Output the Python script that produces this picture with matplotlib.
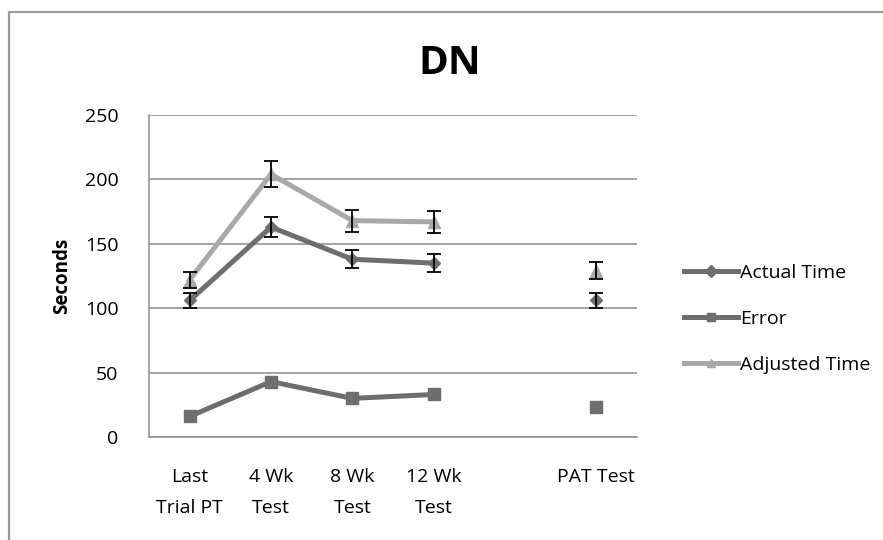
import numpy as np
import matplotlib.pyplot as plt
from matplotlib.patches import Rectangle

plt.rcParams['font.family'] = ['Open Sans', 'DejaVu Sans']

# -- data ---------------------------------------------------------
categories    = ['Last\nTrial PT', '4 Wk\nTest', '8 Wk\nTest', '12 Wk\nTest', '', 'PAT Test']
actual_time   = [106, 163, 138, 135, np.nan, 106]
actual_err    = [5.5, 8, 7, 7, np.nan, 5.5]
error_vals    = [16, 43, 30, 33, np.nan, 23]
adjusted_time = [122, 204, 168, 167, np.nan, 129]
adjusted_err  = [6, 10, 8.5, 8.5, np.nan, 6.5]
y_ticks       = [0, 50, 100, 150, 200, 250]

dark  = '#6e6e6e'
light = '#a9a9a9'

# -- plot setup ---------------------------------------------------
fig = plt.figure(figsize=(8.83, 5.40), dpi=100)
ax  = fig.add_axes((149/883, 1-437/540, (637-149)/883, (437-115)/540))

x = np.arange(len(categories))

ax.plot(x, actual_time, color=dark, lw=3.6, marker='D', ms=6.5, label='Actual Time', zorder=3)
ax.plot(x, error_vals, color=dark, lw=3.6, marker='s', ms=8, label='Error', zorder=3)
ax.plot(x, adjusted_time, color=light, lw=3.6, marker='^', ms=8, label='Adjusted Time', zorder=3)

ax.errorbar(x, actual_time, yerr=actual_err, fmt='none', ecolor='black', elinewidth=1.3,
            capsize=5, capthick=1.3, zorder=4)
ax.errorbar(x, adjusted_time, yerr=adjusted_err, fmt='none', ecolor='black', elinewidth=1.3,
            capsize=5, capthick=1.3, zorder=4)

# -- axes ---------------------------------------------------------
ax.set_xlim(-0.5, len(categories) - 0.5)
ax.set_ylim(0, 250)
ax.set_yticks(y_ticks)
ax.set_xticks(x, categories)
ax.tick_params(axis='both', length=0, labelsize=14, colors='black')
ax.tick_params(axis='y', pad=22)
ax.tick_params(axis='x', pad=22)
for lbl in ax.get_xticklabels():
    lbl.set_linespacing(1.95)
ax.yaxis.grid(True, color='#8c8c8c', lw=1.1)
ax.set_axisbelow(True)
for s in ('top', 'right'):
    ax.spines[s].set_visible(False)
for s in ('left', 'bottom'):
    ax.spines[s].set_color('#8c8c8c')
    ax.spines[s].set_linewidth(1.1)

ax.set_ylabel('Seconds', fontsize=13.5, fontweight='bold', labelpad=9)
fig.text(450/883, 1-64/540, 'DN', fontsize=29, fontweight='bold', ha='center', va='center')

leg = ax.legend(loc='center left', bbox_to_anchor=(666/883, 1-319/540),
                bbox_transform=fig.transFigure, frameon=False, fontsize=14,
                handlelength=2.8, labelspacing=1.45, handletextpad=0.1)
for h in leg.legend_handles:
    h.set_markersize(6)

# -- outer frame --------------------------------------------------
fig.patches.append(Rectangle((9/883, -0.1), 1.2, 1-12/540+0.1, transform=fig.transFigure,
                             fill=False, edgecolor='#9a9a9a', lw=1.6))

fig.savefig('out.png', dpi=100)
